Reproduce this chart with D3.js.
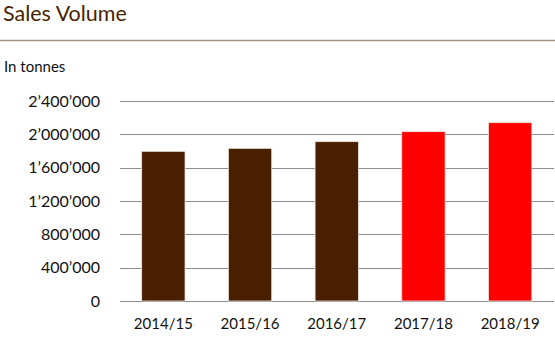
<!DOCTYPE html>
<html>
<head>
  <meta charset="utf-8">
  <script src="https://d3js.org/d3.v7.min.js"></script>
  <style>
    body { margin: 0; background: #fff; }
    text { font-family: Lato, "Open Sans", sans-serif; }
  </style>
</head>
<body>
<script>
  // chart data
  var years = ["2014/15", "2015/16", "2016/17", "2017/18", "2018/19"];
  var volumes = [1796000, 1832000, 1912000, 2032000, 2140000];
  var barColors = ["#4a1f00", "#4a1f00", "#4a1f00", "#ff0000", "#ff0000"];
  var yTicks = [0, 400000, 800000, 1200000, 1600000, 2000000, 2400000];

  var width = 555, height = 350;
  var svg = d3.select("body").append("svg")
      .attr("width", width)
      .attr("height", height);

  // header
  svg.append("text")
     .attr("x", 3).attr("y", 21)
     .style("font-size", "21.5px")
     .style("fill", "#4a1f00")
     .text("Sales Volume");

  svg.append("line")
     .attr("x1", 0).attr("x2", width)
     .attr("y1", 40.5).attr("y2", 40.5)
     .style("stroke", "#a39383")
     .style("stroke-width", 1.5);

  svg.append("text")
     .attr("x", 4).attr("y", 72)
     .style("font-size", "15px")
     .style("fill", "#111")
     .text("In tonnes");

  /*
    scales
  */
  var x = d3.scaleBand()
      .domain(years)
      .range([120, 553.5])
      .paddingInner(0.5)
      .paddingOuter(0.25);

  var y = d3.scaleLinear()
      .domain([0, 2400000])
      .range([301, 101]);

  var fmt = function(d) {
    return d3.format(",")(d).replace(/,/g, "\u2019");
  };

  // grid lines
  svg.append("g")
    .selectAll("line")
    .data(yTicks)
    .enter().append("line")
      .attr("x1", 120).attr("x2", 554)
      .attr("y1", function(d) { return Math.round(y(d)) + 0.5; })
      .attr("y2", function(d) { return Math.round(y(d)) + 0.5; })
      .style("stroke", "#8c8c8c")
      .style("stroke-width", 1);

  // y axis labels
  var yAxis = d3.axisLeft(y).tickValues(yTicks).tickFormat(fmt).tickSize(0).tickPadding(0);
  var gy = svg.append("g")
      .attr("transform", "translate(100,0)")
      .call(yAxis);
  gy.select(".domain").remove();
  gy.selectAll("text")
      .style("font-family", "Lato, 'Open Sans', sans-serif")
      .style("font-size", "16px")
      .style("fill", "#111");

  // bars
  svg.append("g")
    .selectAll("rect")
    .data(volumes)
    .enter().append("rect")
      .attr("x", function(d, i) { return x(years[i]); })
      .attr("width", x.bandwidth())
      .attr("y", function(d) { return y(d); })
      .attr("height", function(d) { return y(0) - y(d); })
      .style("fill", function(d, i) { return barColors[i]; })
      .style("stroke", "#ece4dc")
      .style("stroke-width", 0.8);

  // x axis labels
  var xAxis = d3.axisBottom(x).tickSize(0).tickPadding(0);
  var gx = svg.append("g")
      .attr("transform", "translate(0,329)")
      .call(xAxis);
  gx.select(".domain").remove();
  gx.selectAll("text")
      .attr("dy", "0")
      .style("font-family", "Lato, 'Open Sans', sans-serif")
      .style("font-size", "15px")
      .style("fill", "#111");
</script>
</body>
</html>
